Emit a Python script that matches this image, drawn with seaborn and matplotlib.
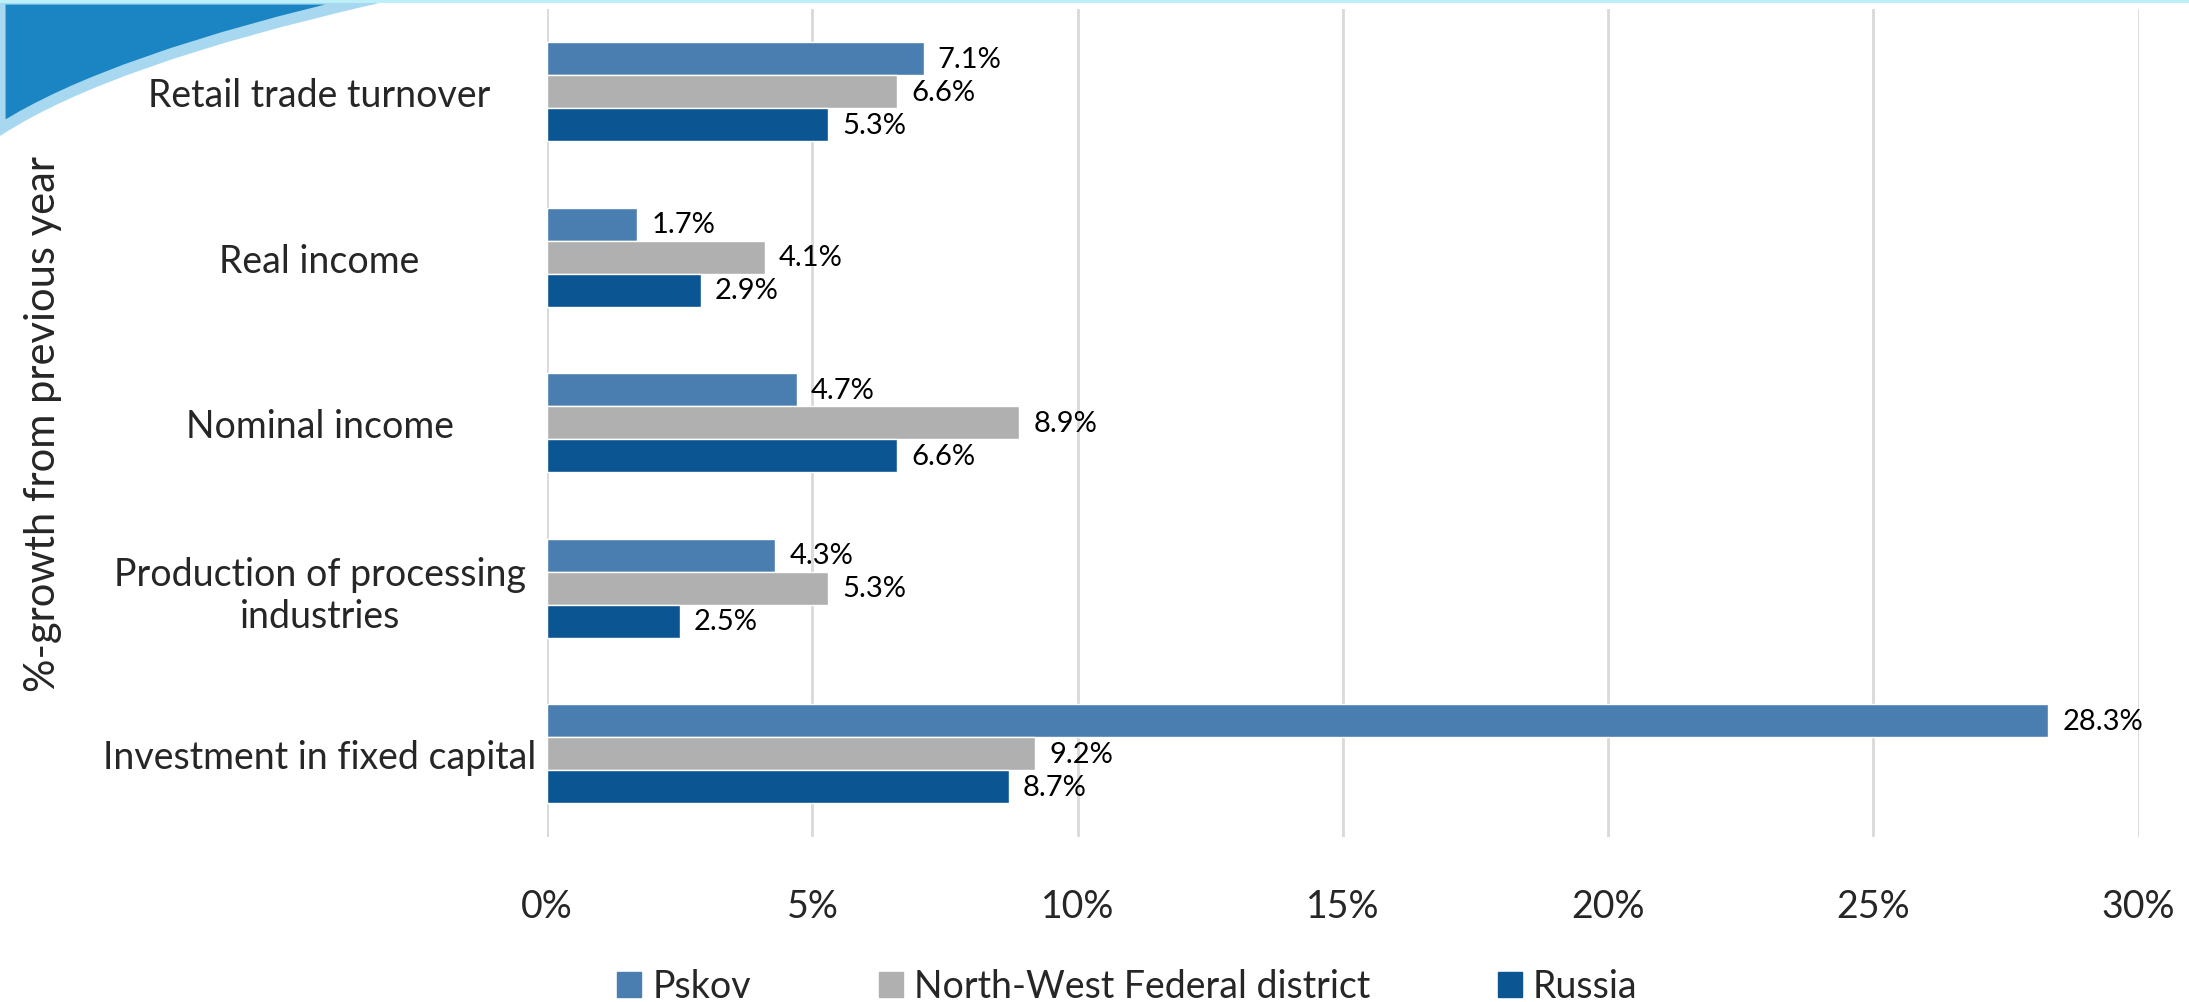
import pandas as pd
import numpy as np
import matplotlib.pyplot as plt
import matplotlib.patches as mpatches
from matplotlib.path import Path
from matplotlib.ticker import PercentFormatter
import seaborn as sns

categories = ['Retail trade turnover', 'Real income', 'Nominal income',
              'Production of processing\nindustries', 'Investment in fixed capital']
regions = ['Pskov', 'North-West Federal district', 'Russia']
pskov = [7.1, 1.7, 4.7, 4.3, 28.3]
north_west = [6.6, 4.1, 8.9, 5.3, 9.2]
russia = [5.3, 2.9, 6.6, 2.5, 8.7]
colors = ['#4A7EB0', '#B0B0B0', '#0A5592']

df = pd.DataFrame({
    'Category': categories * 3,
    'Region': [regions[0]] * 5 + [regions[1]] * 5 + [regions[2]] * 5,
    'Value': pskov + north_west + russia,
})

sns.set_style('white')
plt.rcParams['font.family'] = ['Lato', 'DejaVu Sans']

fig = plt.figure(figsize=(21.89, 10.03), dpi=100)
ax = fig.add_axes([0.25, 0.165, 0.727, 0.825])

sns.barplot(data=df, y='Category', x='Value', hue='Region', order=categories,
            hue_order=regions, palette=colors, width=0.6, orient='h',
            saturation=1, ax=ax, legend=False)

# labels at bar ends
for cont in ax.containers:
    ax.bar_label(cont, labels=[f'{v:.1f}%' for v in cont.datavalues],
                 padding=10, fontsize=21, color='black')

ax.set_xlim(0, 30)
ax.set_ylim(4.5, -0.5)
ax.set_xticks([0, 5, 10, 15, 20, 25, 30])
ax.xaxis.set_major_formatter(PercentFormatter(decimals=0))
ax.grid(axis='x', color='#D9D9D9', linewidth=2)
ax.grid(axis='y', visible=False)
ax.set_axisbelow(True)
for s in ax.spines.values():
    s.set_visible(False)
ax.tick_params(axis='x', labelsize=27, pad=37, length=0)
ax.tick_params(axis='y', labelsize=27, length=0)
for lbl in ax.get_yticklabels():
    lbl.set_horizontalalignment('center')
    lbl.set_multialignment('center')
    lbl.set_x(-0.14)
ax.set_xlabel('')
ax.set_ylabel('%-growth from previous year', fontsize=30)
ax.yaxis.set_label_coords(-0.305, 0.5)

handles = [mpatches.Rectangle((0, 0), 1, 1, color=c) for c in colors]
fig.legend(handles, regions, loc='lower center', bbox_to_anchor=(0.515, -0.036),
           ncol=3, frameon=False, fontsize=27, handlelength=0.64, handleheight=0.64,
           handletextpad=0.3, columnspacing=3.4)

# slide decoration in the top-left corner
verts = [(0, 1), (0.17, 1), (0.05, 0.94), (0, 0.87), (0, 1)]
codes = [Path.MOVETO, Path.LINETO, Path.CURVE3, Path.CURVE3, Path.CLOSEPOLY]
fig.patches.append(mpatches.PathPatch(Path(verts, codes), transform=fig.transFigure,
                                      facecolor='#1A85C2', edgecolor='#A8D8F0',
                                      linewidth=8))
fig.patches.append(mpatches.Rectangle((0, 0.996), 1, 0.004, transform=fig.transFigure,
                                      facecolor='#BDEFF8', edgecolor='none'))

fig.savefig('out.png', dpi=100)
